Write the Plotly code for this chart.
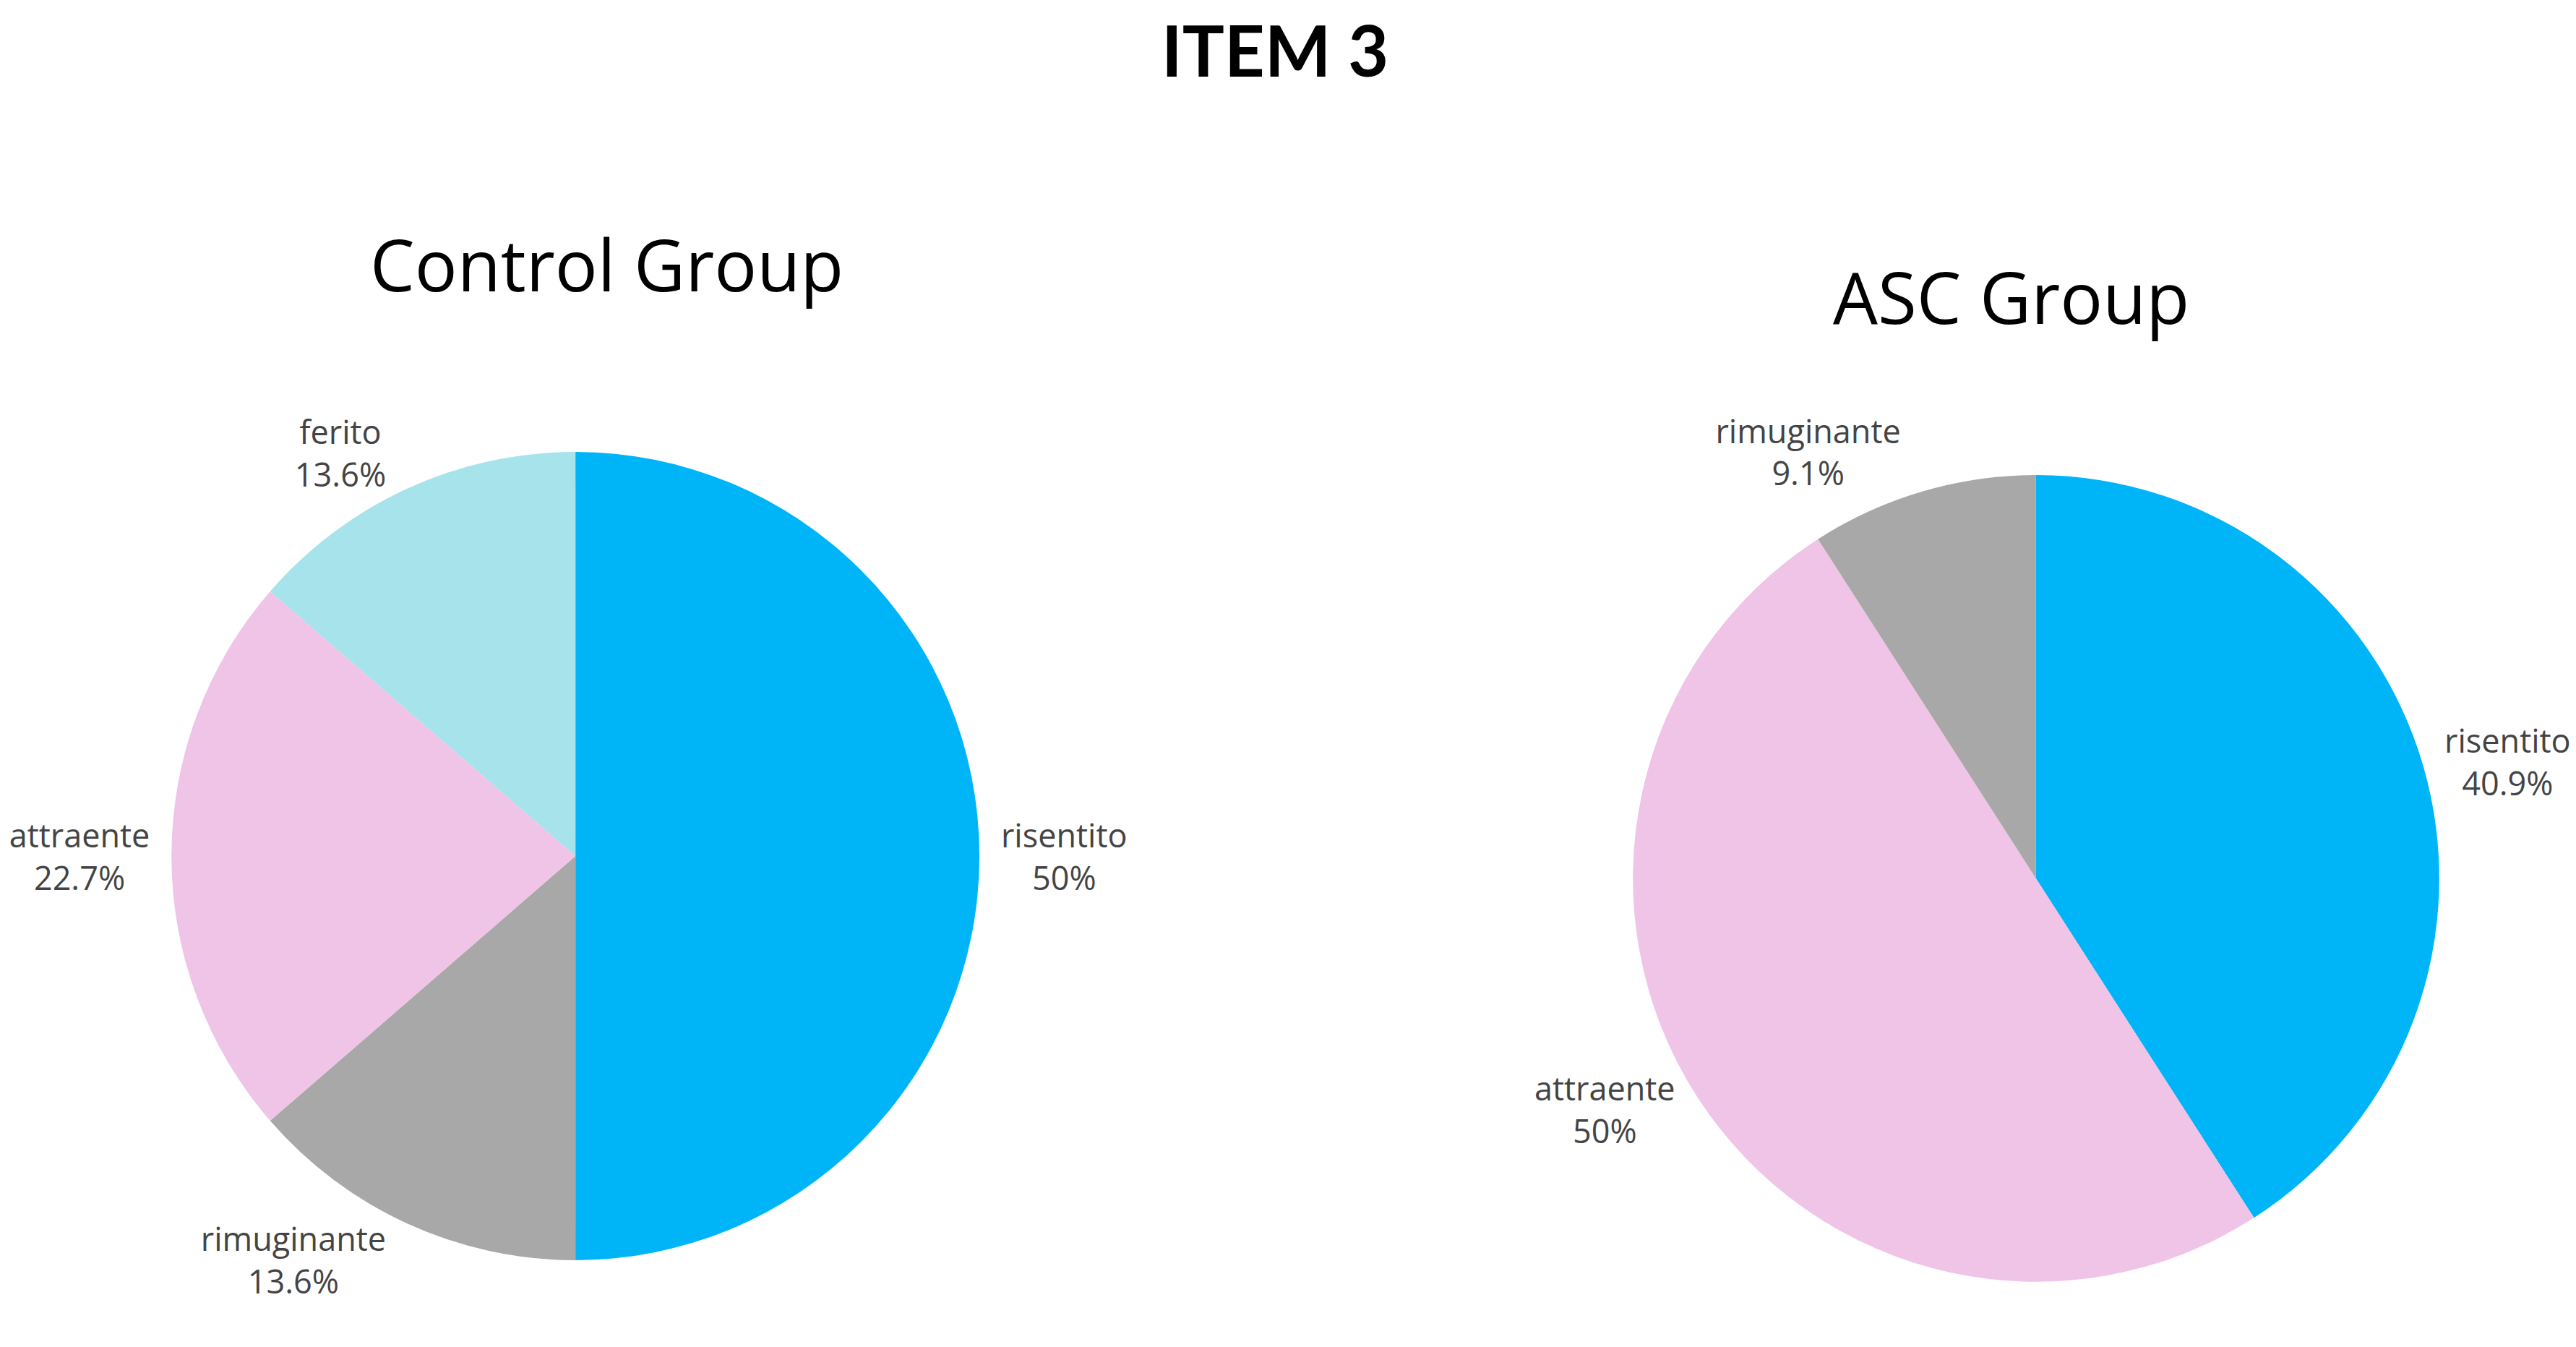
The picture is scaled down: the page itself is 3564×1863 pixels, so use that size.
import plotly.graph_objects as go

W, H = 3564, 1863

control_labels = ["risentito", "rimuginante", "attraente", "ferito"]
control_counts = [11, 3, 5, 3]
control_colors = ["#00B4F8", "#A8A8A8", "#F0C4E6", "#A6E3EB"]

asc_labels = ["risentito", "attraente", "rimuginante"]
asc_counts = [9, 11, 2]
asc_colors = ["#00B4F8", "#F0C4E6", "#A8A8A8"]

main_title = "ITEM 3"
sub_titles = ["Control Group", "ASC Group"]

label_font = dict(family="Open Sans", size=45, color="#444444")

def dom(cx, cy, r):
    return dict(x=[(cx - r) / W, (cx + r) / W], y=[1 - (cy + r) / H, 1 - (cy - r) / H])

fig = go.Figure()
fig.add_trace(go.Pie(
    labels=control_labels, values=control_counts, sort=False, direction="clockwise", rotation=0,
    marker=dict(colors=control_colors), textposition="outside",
    texttemplate="%{label}<br>%{percent:.1~%}", textfont=label_font,
    domain=dom(763, 1176, 564), hoverinfo="label+percent"))
fig.add_trace(go.Pie(
    labels=asc_labels, values=asc_counts, sort=False, direction="clockwise", rotation=0,
    marker=dict(colors=asc_colors), textposition="outside",
    texttemplate="%{label}<br>%{percent:.1~%}", textfont=label_font,
    domain=dom(2802, 1207, 563), hoverinfo="label+percent"))

fig.add_annotation(text="<b>" + main_title + "</b>", x=1740 / W, y=1, xref="paper", yref="paper",
                   showarrow=False, xanchor="center", yanchor="top",
                   font=dict(family="Lato", size=97, color="#000000"))
fig.add_annotation(text=sub_titles[0], x=807 / W, y=1 - 357 / H, xref="paper", yref="paper",
                   showarrow=False, xanchor="center", yanchor="middle",
                   font=dict(family="Open Sans", size=98, color="#000000"))
fig.add_annotation(text=sub_titles[1], x=2767 / W, y=1 - 402 / H, xref="paper", yref="paper",
                   showarrow=False, xanchor="center", yanchor="middle",
                   font=dict(family="Open Sans", size=98, color="#000000"))

fig.update_layout(width=W, height=H, margin=dict(l=0, r=0, t=0, b=0), showlegend=False,
                  paper_bgcolor="white", plot_bgcolor="white")
fig.write_html("out.html")
